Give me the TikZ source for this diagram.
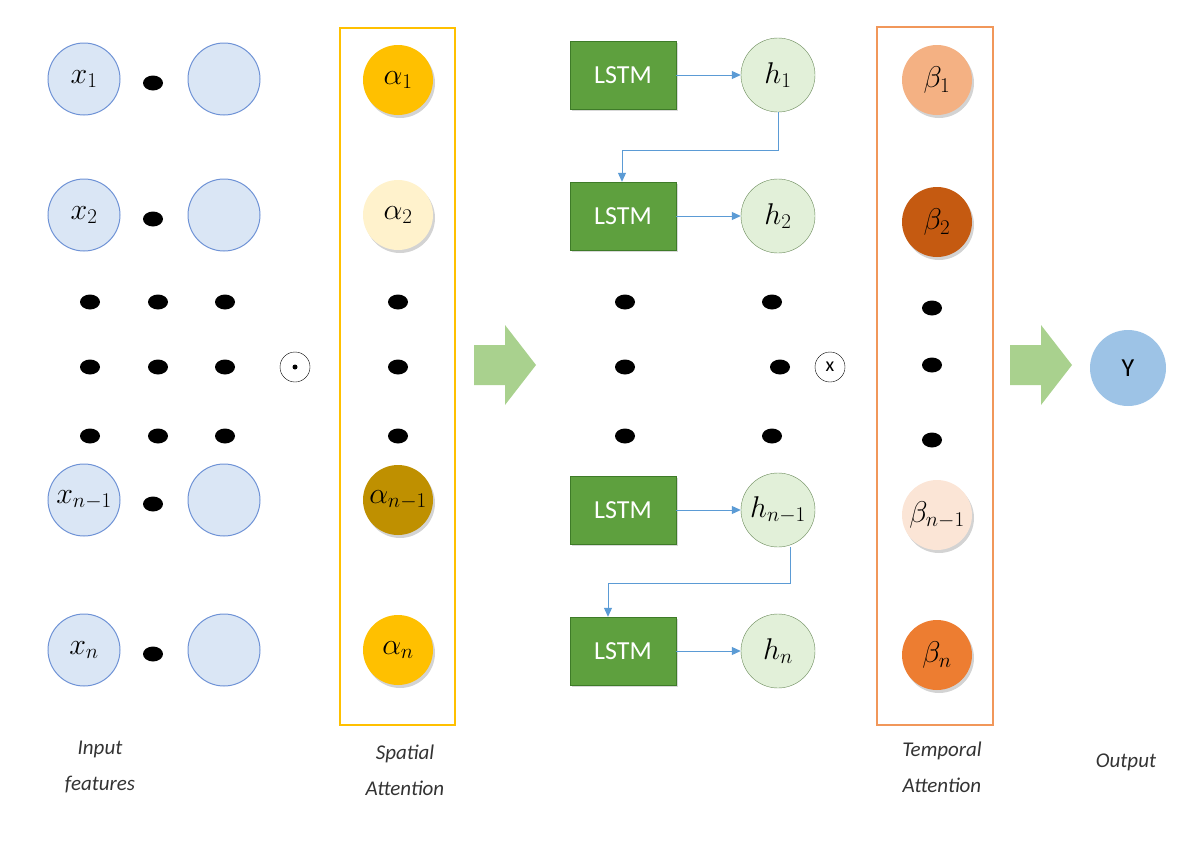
\RequirePackage{fix-cm}
\documentclass[tikz,border=0pt]{standalone}
\usepackage{fontspec}
\setsansfont{Carlito}
\usetikzlibrary{shadows,arrows.meta}
\definecolor{xfill}{HTML}{DAE6F5}\definecolor{xdraw}{HTML}{6F93D6}
\definecolor{aone}{HTML}{FFC000}\definecolor{atwo}{HTML}{FFF2CC}\definecolor{athree}{HTML}{BF9000}
\definecolor{bone}{HTML}{F4B183}\definecolor{btwo}{HTML}{C55A11}\definecolor{bthree}{HTML}{FBE5D6}\definecolor{bfour}{HTML}{ED7D31}
\definecolor{lfill}{HTML}{5EA03E}\definecolor{ldraw}{HTML}{3E7B28}
\definecolor{hfill}{HTML}{E2F0D9}\definecolor{hdraw}{HTML}{6A8A5A}
\definecolor{conn}{HTML}{5B9BD5}\definecolor{bigarr}{HTML}{A9D18E}
\definecolor{yfill}{HTML}{9DC3E6}
\definecolor{yrect}{HTML}{FFC000}\definecolor{orect}{HTML}{ED7D31}
\begin{document}
\begin{tikzpicture}[x=1pt,y=-1pt,
  xin/.style={circle,minimum size=72pt,fill=xfill,draw=xdraw,line width=1pt,inner sep=0pt,font=\fontsize{30}{32}\selectfont},
  att/.style={circle,minimum size=70pt,inner sep=0pt,drop shadow={opacity=0.35,shadow xshift=2pt,shadow yshift=-3pt},font=\fontsize{30}{32}\selectfont},
  bdot/.style={circle,fill=black,minimum size=20pt,inner sep=0pt,yscale=0.75},
  lstm/.style={rectangle,fill=lfill,draw=ldraw,minimum width=106pt,minimum height=68pt,text=white,font=\sffamily\fontsize{26}{28}\selectfont,drop shadow={opacity=0.3,shadow xshift=2pt,shadow yshift=-2pt}},
  hn/.style={circle,minimum size=74pt,fill=hfill,draw=hdraw,inner sep=0pt,font=\fontsize{30}{32}\selectfont},
  conn/.style={draw=conn,line width=1pt,-{Triangle[length=9pt,width=8pt]}},
  lab/.style={font=\sffamily\itshape\fontsize{21}{36}\selectfont,align=center,text=black!80}]
\useasboundingbox (0,0) rectangle (1200,844);
% input features
\foreach \n/\y/\t in {a/79/{$x_1$},b/215/{$x_2$},c/500/{$x_{n-1}$},d/650/{$x_n$}}{
  \node[xin] (x\n) at (84,\y) {\t};
  \node[xin] (xx\n) at (224,\y) {};
  \node[bdot] (xd\n) at (153,\y+4) {};
}
\foreach \y in {302,367,436}{\foreach \x in {90,158,225}{\node[bdot] at (\x,\y) {};}}
\node[circle,draw,minimum size=30pt,inner sep=0pt] (odot) at (295,367) {};
\fill (odot.center) circle (2.5pt);
% spatial
\draw[yrect,line width=1.2pt] (340,28) rectangle (455,725);
\node[att,fill=aone] (a1) at (398,80) {$\alpha_1$};
\node[att,fill=atwo] (a2) at (398,215) {$\alpha_2$};
\node[att,fill=athree] (a3) at (398,500) {$\alpha_{n-1}$};
\node[att,fill=aone] (a4) at (398,650) {$\alpha_n$};
\foreach \y in {302,367,436}{\node[bdot] at (398,\y) {};}
\fill[bigarr] (474,345) -- (505,345) -- (505,325) -- (536,365) -- (505,405) -- (505,385) -- (474,385) -- cycle;
% LSTM
\foreach \n/\y/\t in {1/75/{$h_1$},2/216/{$h_2$},3/510/{$h_{n-1}$},4/651/{$h_n$}}{
  \node[lstm] (l\n) at (623,\y) {LSTM};
  \node[hn] (h\n) at (778,\y) {\t};
  \draw[conn] (l\n) -- (h\n);
}
\coordinate (c1) at (778,150);
\coordinate (c2) at (622,150);
\draw[conn] (h1.south) -- (c1) -- (c2) -- (c2 |- l2.north);
\coordinate (c3) at (790,583);
\coordinate (c4) at (608,583);
\draw[conn] (h3.south -| c3) -- (c3) -- (c4) -- (c4 |- l4.north);
\foreach \y in {302,367,436}{\node[bdot] at (625,\y) {};}
\foreach \x/\y in {772/302,780/367,772/436}{\node[bdot] at (\x,\y) {};}
\node[circle,draw,minimum size=30pt,inner sep=0pt,font=\sffamily\fontsize{20}{20}\selectfont] (otimes) at (830,367) {x};
% temporal
\draw[orect!80,line width=1.2pt] (877,27) rectangle (993,725);
\node[att,fill=bone] (b1) at (937,80) {$\beta_1$};
\node[att,fill=btwo] (b2) at (937,222) {$\beta_2$};
\node[att,fill=bthree] (b3) at (937,515) {$\beta_{n-1}$};
\node[att,fill=bfour] (b4) at (937,655) {$\beta_n$};
\foreach \y in {308,365,440}{\node[bdot] at (932,\y) {};}
\fill[bigarr] (1010,345) -- (1041,345) -- (1041,325) -- (1072,365) -- (1041,405) -- (1041,385) -- (1010,385) -- cycle;
\node[circle,fill=yfill,minimum size=76pt,inner sep=0pt,font=\sffamily\fontsize{26}{28}\selectfont] (Y) at (1128,368) {Y};
% labels
\node[lab] (l1) at (100,767) {Input\\features};
\node[lab] (l2t) at (405,770) {Spatial\\Attention};
\node[lab] (l3) at (942,767) {Temporal\\Attention};
\node[lab] (l4) at (1126,762) {Output};
\end{tikzpicture}
\end{document}
